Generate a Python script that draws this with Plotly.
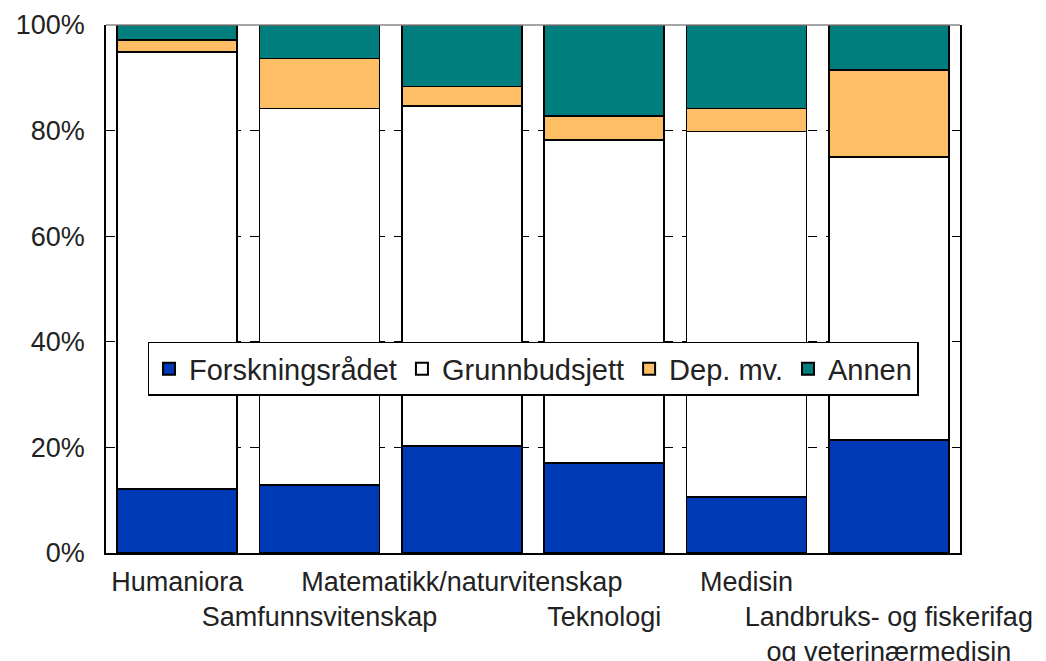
import plotly.graph_objects as go

categories = ["Humaniora", "Samfunnsvitenskap", "Matematikk/naturvitenskap",
              "Teknologi", "Medisin", "Landbruks- og fiskerifag og veterinærmedisin"]
tick_labels = ["Humaniora", " <br>Samfunnsvitenskap", "Matematikk/naturvitenskap",
               " <br>Teknologi", "Medisin", " <br>Landbruks- og fiskerifag<br>og veterinærmedisin"]

forskningsradet = [12.1, 12.9, 20.3, 17.0, 10.6, 21.4]
grunnbudsjett = [82.8, 71.3, 64.4, 61.2, 69.2, 53.6]
dep_mv = [2.3, 9.5, 3.7, 4.6, 4.4, 16.5]
annen = [2.8, 6.3, 11.6, 17.2, 15.8, 8.5]

series = [
    ("Forskningsrådet", forskningsradet, "#0039B5"),
    ("Grunnbudsjett", grunnbudsjett, "#FFFFFF"),
    ("Dep. mv.", dep_mv, "#FDBE66"),
    ("Annen", annen, "#007E7E"),
]

font_family = "Liberation Sans, Arial, sans-serif"

fig = go.Figure()
for name, vals, color in series:
    fig.add_trace(go.Bar(
        x=categories, y=vals, name=name,
        marker=dict(color=color, line=dict(color="black", width=1.5)),
    ))

fig.update_layout(
    barmode="stack",
    bargap=0.157,
    width=1038, height=653,
    margin=dict(l=98, r=86, t=17, b=108),
    paper_bgcolor="white", plot_bgcolor="white",
    font=dict(family=font_family, size=26, color="#222222"),
    showlegend=True,
    legend=dict(
        orientation="h", x=0.5, xanchor="center", y=0.40, yanchor="top",
        bgcolor="white", bordercolor="black", borderwidth=1.5,
        font=dict(size=29, color="#222222"),
        itemsizing="constant", traceorder="normal", itemwidth=30,
    ),
    xaxis=dict(
        tickmode="array", tickvals=categories, ticktext=tick_labels,
        tickangle=0, automargin=False, ticklabelstandoff=4,
        showline=True, linecolor="black", linewidth=1.5, mirror=False,
        ticks="", showgrid=False, tickfont=dict(size=27),
        range=[-0.5, 5.5],
    ),
    yaxis=dict(
        range=[0, 100], tickvals=[0, 20, 40, 60, 80, 100],
        ticktext=["0%", "20%", "40%", "60%", "80%", "100%"],
        automargin=False, ticklabelstandoff=14,
        showline=True, linecolor="black", linewidth=1.5, mirror="ticks",
        ticks="inside", ticklen=5, tickcolor="black",
        showgrid=True, gridcolor="black", gridwidth=1, griddash="dash",
        zeroline=False, tickfont=dict(size=27),
    ),
    shapes=[dict(type="line", xref="paper", yref="paper", x0=0, x1=1, y0=1, y1=1,
                 line=dict(color="#888888", width=1.5))],
)

fig.write_html("out.html")
